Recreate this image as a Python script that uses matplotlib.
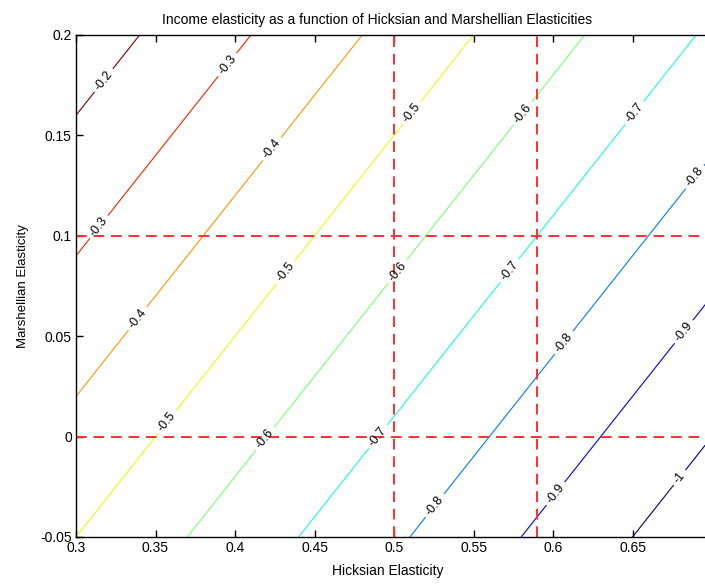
"""Income elasticity contours over Hicksian / Marshallian elasticity plane."""
import matplotlib
matplotlib.use("Agg")
import matplotlib.pyplot as plt
import numpy as np

plt.rcParams["font.family"] = ["Liberation Sans", "DejaVu Sans"]

# budget share: E_income = (M - H) / share
BUDGET_SHARE = 0.7
HICKSIAN = np.linspace(0.3, 0.7, 81)
MARSHALLIAN = np.linspace(-0.05, 0.2, 51)
LEVELS = [-1.0, -0.9, -0.8, -0.7, -0.6, -0.5, -0.4, -0.3, -0.2]

# reference lines
V_LINES = [0.5, 0.59]
H_LINES = [0.0, 0.1]

X_TICKS = [0.3, 0.35, 0.4, 0.45, 0.5, 0.55, 0.6, 0.65]
X_TICKLABELS = ["0.3", "0.35", "0.4", "0.45", "0.5", "0.55", "0.6", "0.65"]
Y_TICKS = [-0.05, 0.0, 0.05, 0.1, 0.15, 0.2]
Y_TICKLABELS = ["-0.05", "0", "0.05", "0.1", "0.15", "0.2"]

# where the inline labels sit (H, M)
LABEL_POS = [
    (0.315, 0.179),
    (0.394, 0.186), (0.315, 0.104),
    (0.422, 0.144), (0.332, 0.063),
    (0.510, 0.162), (0.430, 0.083), (0.345, 0.015),
    (0.581, 0.161), (0.501, 0.083), (0.417, 0.000),
    (0.650, 0.162), (0.572, 0.083), (0.490, 0.000),
    (0.680, 0.135), (0.605, 0.048), (0.525, -0.034),
    (0.681, 0.053), (0.601, -0.028),
    (0.679, -0.020),
]

H, M = np.meshgrid(HICKSIAN, MARSHALLIAN)
income = (M - H) / BUDGET_SHARE

fig = plt.figure(figsize=(7.05, 5.84), dpi=100)
ax = fig.add_axes([76 / 705, 47 / 584, 636 / 705, 502 / 584])

cs = ax.contour(H, M, income, levels=LEVELS, cmap="jet", vmin=-1.0, vmax=-0.2,
                linewidths=0.8)
ax.clabel(cs, fmt="%g", manual=LABEL_POS, inline=True, inline_spacing=4,
          fontsize=9, colors="k")

for x in V_LINES:
    ax.axvline(x, color="#ff2f2f", lw=1.4, ls=(0, (5.5, 3.5)))
for y in H_LINES:
    ax.axhline(y, color="#ff2f2f", lw=1.4, ls=(0, (5.5, 3.5)))

ax.set_xlim(0.3, 0.7)
ax.set_ylim(-0.05, 0.2)
ax.set_xticks(X_TICKS)
ax.set_xticklabels(X_TICKLABELS)
ax.set_yticks(Y_TICKS)
ax.set_yticklabels(Y_TICKLABELS)
ax.tick_params(direction="in", top=True, right=True, length=5, width=1,
               labelsize=10, pad=3)
for sp in ax.spines.values():
    sp.set_linewidth(1.0)

ax.set_title("Income elasticity as a function of Hicksian and Marshellian Elasticities",
             fontsize=10, x=0.473, pad=8)
ax.set_xlabel("Hicksian Elasticity", fontsize=10, x=0.49, labelpad=6)
ax.set_ylabel("Marshellian Elasticity", fontsize=9.5, labelpad=8)

fig.savefig("out.png", dpi=100)
